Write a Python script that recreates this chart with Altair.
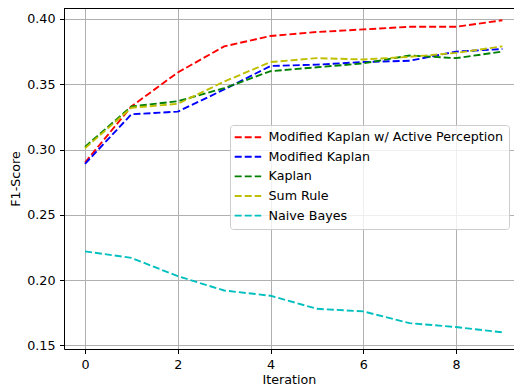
import altair as alt
import pandas as pd

iterations = list(range(10))
series_names = [
    "Modified Kaplan w/ Active Perception",
    "Modified Kaplan",
    "Kaplan",
    "Sum Rule",
    "Naive Bayes",
]
series_colors = ["#ff0000", "#0000ff", "#008000", "#bfbf00", "#00bfbf"]

mk_active = [0.290, 0.333, 0.359, 0.379, 0.387, 0.390, 0.392, 0.394, 0.394, 0.399]
mod_kaplan = [0.289, 0.327, 0.329, 0.346, 0.364, 0.365, 0.367, 0.368, 0.375, 0.377]
kaplan = [0.302, 0.333, 0.337, 0.347, 0.360, 0.363, 0.366, 0.372, 0.370, 0.375]
sum_rule = [0.301, 0.332, 0.335, 0.352, 0.367, 0.370, 0.369, 0.371, 0.374, 0.379]
naive_bayes = [0.222, 0.217, 0.203, 0.192, 0.188, 0.178, 0.176, 0.167, 0.164, 0.160]

x_ticks = [0, 2, 4, 6, 8]
y_ticks = [0.15, 0.20, 0.25, 0.30, 0.35, 0.40]

all_series = [mk_active, mod_kaplan, kaplan, sum_rule, naive_bayes]
rows = []
for k, (name, vals) in enumerate(zip(series_names, all_series)):
    for it, v in zip(iterations, vals):
        rows.append({"Iteration": it, "F1": v, "Method": name, "k": k})
df = pd.DataFrame(rows)

FONT = "DejaVu Sans"
FS = 12.7
W = 450
H = 341
DASH = [7, 3]
LW = 1.9

lines = (
    alt.Chart(df)
    .mark_line(strokeWidth=LW, strokeDash=DASH, clip=True)
    .encode(
        x=alt.X(
            "Iteration:Q",
            scale=alt.Scale(domain=[-0.4528, 9.25], nice=False, zero=False),
            axis=alt.Axis(values=x_ticks, title="Iteration", format="d"),
        ),
        y=alt.Y(
            "F1:Q",
            scale=alt.Scale(domain=[0.1472, 0.4084], nice=False, zero=False),
            axis=alt.Axis(values=y_ticks, title="F1-Score", format=".2f"),
        ),
        color=alt.Color(
            "Method:N",
            scale=alt.Scale(domain=series_names, range=series_colors),
            sort=series_names,
            legend=alt.Legend(
                title=None,
                orient="none",
                legendX=166,
                legendY=117,
                fillColor="rgba(255,255,255,0.8)",
                strokeColor="#cccccc",
                cornerRadius=3,
                padding=5.85,
                symbolType="M-1.5,0H3.8",
                symbolSize=100,
                symbolStrokeWidth=LW,
                symbolDash=DASH,
                symbolFillColor="transparent",
                labelFont=FONT,
                labelFontSize=FS,
                labelColor="black",
                labelOffset=20,
                labelLimit=400,
                rowPadding=5.6,
            ),
        ),
        order="k:Q",
        detail="Method:N",
    )
)

top_spine = alt.Chart(pd.DataFrame({"s": [0]})).mark_rule(
    color="black", strokeWidth=1.0
).encode(x=alt.value(0), x2=alt.value(W), y=alt.value(0.5))

chart = (
    alt.layer(lines, top_spine)
    .properties(
        width=W,
        height=H,
        autosize=alt.AutoSizeParams(type="none"),
        padding={"left": 56, "top": 0, "right": 0, "bottom": 39},
    )
    .configure_view(stroke=None)
    .configure_axis(
        grid=True,
        gridColor="#b0b0b0",
        gridWidth=1.0,
        domain=True,
        domainColor="black",
        domainWidth=1.0,
        ticks=True,
        tickColor="black",
        tickSize=4.5,
        tickWidth=1.0,
        labelPadding=4.5,
        labelFont=FONT,
        labelFontSize=FS,
        labelColor="black",
        labelFlush=False,
        titleFont=FONT,
        titleFontSize=FS,
        titleFontWeight="normal",
        titleColor="black",
    )
    .configure_axisX(titlePadding=3)
    .configure_axisY(titlePadding=4.5)
)

chart.save("out.html", embed_options={"renderer": "svg", "actions": False})
